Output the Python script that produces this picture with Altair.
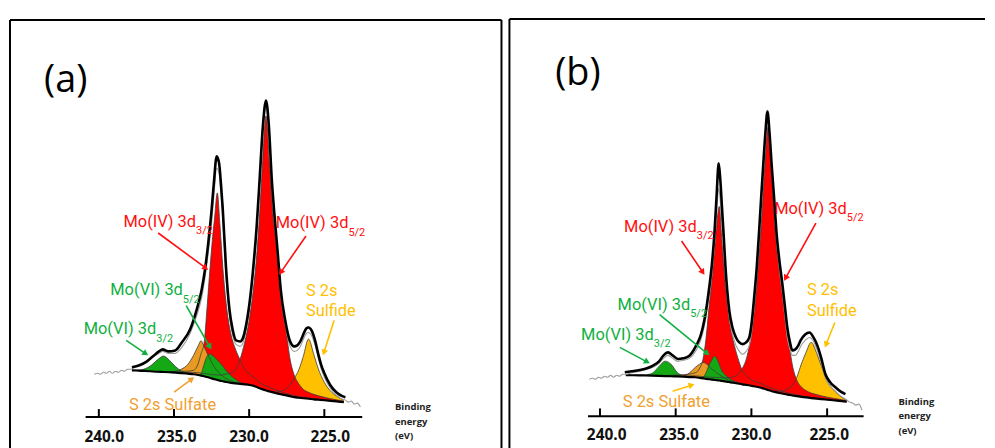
import math
import altair as alt
import pandas as pd

# ------------------------------------------------------------------
# Data (binding energy in eV, intensity in a.u.)
# ------------------------------------------------------------------

# ---------------- panel (a) ----------------
BG_A = [(237.8, 47), (237.2, 46.5), (236.6, 46), (236.1, 45.5), (235.7, 45.3), (235.3, 45),
        (234.9, 44.7), (234.5, 44.2), (234.1, 43.6), (233.7, 43), (233.4, 42.3), (233.2, 41.7),
        (233.0, 41), (232.8, 40.2), (232.6, 39.3), (232.45, 38.6), (232.3, 38), (232.12, 37.3),
        (231.95, 36.6), (231.75, 36), (231.5, 35.2), (231.2, 34.4), (230.9, 33.8), (230.6, 33.3),
        (230.3, 32.9), (230.0, 32.4), (229.75, 31.6), (229.5, 30.3), (229.3, 29), (229.1, 27.8),
        (228.88, 26.7), (228.65, 25.8), (228.4, 24.8), (228.15, 23.8), (227.9, 23), (227.6, 22),
        (227.3, 21), (227.0, 20), (226.7, 19.4), (226.4, 18.9), (226.05, 18.4), (225.7, 17.8),
        (225.4, 17.4), (225.0, 16.9), (224.6, 16.3), (224.2, 15.7), (223.7, 15)]

YEL_A = [(228.4, 0.8), (228.15, 1.5), (227.9, 3), (227.6, 6), (227.3, 11), (227.0, 19), (226.7, 28),
         (226.4, 42), (226.05, 60), (225.7, 45), (225.4, 31), (225.0, 18), (224.6, 10), (224.2, 5.5),
         (223.7, 2)]

RED52_A = [(234.1, 1.5), (233.7, 1.9), (233.4, 2.2), (233.2, 2.5), (233.0, 2.8), (232.8, 3.2),
           (232.6, 3.6), (232.45, 4), (232.3, 4.5), (232.12, 5), (231.95, 5.5), (231.75, 6.5),
           (231.5, 8), (231.2, 10), (230.9, 14), (230.6, 25), (230.3, 42), (230.0, 65), (229.75, 93),
           (229.5, 132), (229.3, 176), (229.1, 230), (228.88, 276), (228.65, 229), (228.4, 175),
           (228.15, 146), (227.9, 102), (227.6, 73), (227.3, 39), (227.0, 22), (226.7, 14),
           (226.4, 9), (226.05, 6.5), (225.7, 5), (225.4, 4), (225.0, 3), (224.6, 2.2), (224.2, 1.6),
           (223.7, 1)]

RED32_A = [(234.9, 1.3), (234.5, 1.8), (234.1, 2.5), (233.7, 4), (233.4, 11), (233.2, 22), (233.0, 33),
           (232.8, 70), (232.6, 111), (232.45, 139), (232.3, 162), (232.12, 188), (231.95, 158),
           (231.75, 114), (231.5, 75), (231.2, 48), (230.9, 34), (230.6, 24), (230.3, 15), (230.0, 11),
           (229.75, 9), (229.5, 7), (229.3, 6), (229.1, 5), (228.88, 4.5), (228.65, 4), (228.4, 3.5),
           (228.15, 3), (227.9, 2.5), (227.6, 2), (227.3, 1.8), (227.0, 1.5), (226.7, 1.2), (226.4, 1),
           (226.05, 0.8), (225.7, 0.6), (225.4, 0.5), (225.0, 0.4)]

ORA_A = [(234.9, 1), (234.5, 4), (234.1, 9), (233.7, 19), (233.4, 29), (233.2, 35), (233.0, 30),
         (232.8, 24), (232.6, 19), (232.45, 15), (232.3, 12), (232.12, 9), (231.95, 7), (231.75, 5),
         (231.5, 3), (231.2, 2), (230.9, 1), (230.6, 0.5)]

GRN32_A = [(237.2, 1), (236.6, 5), (236.1, 12), (235.7, 16), (235.3, 12), (234.9, 6), (234.5, 2),
           (234.1, 0.5)]

GRN52_A = [(233.2, 2), (233.0, 12), (232.8, 21), (232.6, 24), (232.45, 23.5), (232.3, 22), (232.12, 20),
           (231.95, 18), (231.75, 15), (231.5, 11), (231.2, 7), (230.9, 4), (230.6, 1.5), (230.3, 0.5)]

ENV_A = [(237.8, 50), (237.3, 52), (236.8, 56), (236.4, 61), (236.0, 66), (235.75, 68), (235.4, 66),
         (234.92, 67), (234.48, 75), (233.93, 88), (233.49, 108), (233.16, 128), (232.94, 148),
         (232.72, 175), (232.5, 208), (232.35, 235), (232.16, 262),
         (232.0, 255), (231.88, 235), (231.76, 210), (231.54, 150), (231.31, 108), (231.1, 88),
         (230.87, 77), (230.6, 76), (230.4, 80), (230.21, 92), (230.0, 112), (229.76, 145),
         (229.5, 192), (229.3, 240), (229.1, 290), (228.88, 318), (228.7, 295), (228.5, 240),
         (228.3, 200), (228.1, 165), (227.9, 128), (227.6, 97), (227.3, 77), (227.0, 71), (226.8, 72),
         (226.6, 76), (226.4, 83), (226.2, 89), (226.05, 90), (225.85, 87), (225.6, 76), (225.4, 63),
         (225.2, 52), (225.0, 44), (224.6, 32), (224.2, 25), (223.8, 21), (223.6, 20)]

RAW_A = [(240.3, 43), (240.1, 44), (239.9, 43), (239.7, 45), (239.5, 44), (239.3, 46), (239.1, 44),
         (238.9, 46), (238.7, 45), (238.5, 47), (238.3, 46), (238.1, 48), (237.9, 48), (237.5, 51),
         (237.0, 54), (236.5, 59), (236.0, 64), (235.75, 66), (235.4, 64),
         (234.92, 64), (234.48, 70), (233.93, 84), (233.49, 102), (233.16, 120), (232.94, 140),
         (232.72, 165), (232.5, 195), (232.35, 222), (232.16, 250), (232.0, 245),
         (231.88, 225), (231.76, 200), (231.54, 142), (231.31, 102), (231.1, 82), (230.87, 73),
         (230.6, 71), (230.4, 75), (230.21, 86), (230.0, 105), (229.76, 138), (229.5, 185),
         (229.3, 232), (229.1, 282), (228.88, 311), (228.7, 288), (228.5, 233), (228.3, 193),
         (228.1, 158), (227.9, 122), (227.6, 92), (227.3, 72), (227.0, 66), (226.8, 67), (226.6, 71),
         (226.4, 78), (226.2, 84), (226.05, 85), (225.85, 82), (225.6, 71), (225.4, 59), (225.2, 48),
         (225.0, 40), (224.6, 29), (224.2, 22), (223.8, 18), (223.6, 17), (223.4, 15), (223.2, 16),
         (223.0, 13), (222.8, 14), (222.6, 10)]

# ---------------- panel (b) ----------------
BG_B = [(238.3, 42.2), (237.8, 42), (237.2, 41.8), (236.6, 41.6), (236.1, 41.4), (235.7, 41.2),
        (235.3, 41), (234.9, 40.8), (234.5, 40.5), (234.1, 40.2), (233.7, 40), (233.4, 39.4),
        (233.2, 38.9), (233.0, 38.4), (232.8, 38), (232.6, 37.6), (232.45, 37.3), (232.3, 37),
        (232.12, 36.7), (231.95, 36.3), (231.75, 35.8), (231.5, 35.2), (231.2, 34.5), (230.9, 33.7),
        (230.6, 32.9), (230.3, 32.2), (230.0, 31.4), (229.75, 30.7), (229.5, 30), (229.3, 29.1),
        (229.1, 28.2), (228.88, 27.1), (228.65, 26), (228.4, 25), (228.15, 24.2), (227.9, 23.4),
        (227.6, 22.6), (227.3, 21.7), (227.0, 21), (226.7, 20.3), (226.4, 19.7), (226.05, 19.1),
        (225.7, 18.6), (225.4, 18.1), (225.0, 17.5), (224.6, 16.9), (224.2, 16.3), (223.7, 15.5)]

YEL_B = [(228.4, 0.8), (228.15, 1.5), (227.9, 3), (227.6, 6), (227.3, 10), (227.0, 19), (226.7, 33),
         (226.4, 45), (226.05, 56), (225.7, 46), (225.4, 34), (225.0, 19), (224.6, 11), (224.2, 5.5),
         (223.7, 1.5)]

RED52_B = [(234.1, 1.2), (233.7, 1.4), (233.4, 1.6), (233.2, 1.8), (233.0, 2), (232.8, 2.2),
           (232.6, 2.4), (232.45, 2.6), (232.3, 2.8), (232.12, 3), (231.95, 3.3), (231.75, 3.6),
           (231.5, 4.3), (231.2, 6), (230.9, 9), (230.6, 16), (230.3, 28), (230.0, 52), (229.75, 84),
           (229.5, 130), (229.3, 176), (229.1, 227), (228.88, 266), (228.65, 216), (228.4, 156),
           (228.15, 124), (227.9, 95), (227.6, 62), (227.3, 31), (227.0, 16), (226.7, 10), (226.4, 7),
           (226.05, 5), (225.7, 4), (225.4, 3.2), (225.0, 2.5), (224.6, 2), (224.2, 1.5), (223.7, 1)]

RED32_B = [(235.3, 1.1), (234.9, 1.5), (234.5, 2), (234.1, 3), (233.7, 4.5), (233.4, 10), (233.2, 19),
           (233.0, 40), (232.8, 72), (232.6, 102), (232.45, 128), (232.3, 155), (232.12, 175),
           (231.95, 142), (231.75, 103), (231.5, 67), (231.2, 42.5), (230.9, 26), (230.6, 14),
           (230.3, 9), (230.0, 6), (229.75, 5), (229.5, 4.5), (229.3, 4), (229.1, 3.6), (228.88, 3.3),
           (228.65, 3), (228.4, 2.7), (228.15, 2.4), (227.9, 2.1), (227.6, 1.8), (227.3, 1.5),
           (227.0, 1.2), (226.7, 1), (226.4, 0.8), (226.05, 0.6), (225.7, 0.5), (225.4, 0.4)]

ORA_B = [(234.5, 0.5), (234.1, 4), (233.7, 10), (233.4, 14), (233.2, 16), (233.0, 15.5), (232.8, 13),
         (232.6, 10.5), (232.45, 9), (232.3, 7.5), (232.12, 6), (231.95, 4.5), (231.75, 3.2),
         (231.5, 2), (231.2, 1), (230.9, 0.5)]

GRN32_B = [(237.2, 0.3), (236.6, 2), (236.1, 9.5), (235.7, 15), (235.3, 12), (234.9, 4), (234.5, 1),
           (234.1, 0.3)]

GRN52_B = [(233.2, 1), (233.0, 6), (232.8, 14), (232.6, 20), (232.45, 24), (232.3, 22), (232.12, 16),
           (231.95, 10), (231.75, 7), (231.5, 4), (231.2, 2), (230.9, 1), (230.6, 0.3)]

ENV_B = [(238.36, 45), (237.9, 46), (237.37, 47.3), (236.9, 49), (236.5, 51.7), (236.1, 56),
         (235.8, 62), (235.51, 65), (235.2, 62), (234.85, 58.3), (234.5, 59), (234.09, 61.7),
         (233.65, 71.7), (233.35, 82), (233.1, 98), (232.93, 114), (232.77, 132), (232.6, 155),
         (232.44, 185), (232.3, 222), (232.16, 255), (232.06, 240), (231.94, 210),
         (231.82, 180), (231.72, 153), (231.6, 128), (231.46, 107), (231.25, 90), (231.02, 80),
         (230.8, 75), (230.58, 73.3), (230.35, 75), (230.14, 80), (229.98, 95), (229.82, 120),
         (229.65, 150), (229.49, 187), (229.35, 222), (229.22, 253), (229.08, 285), (228.94, 307),
         (228.8, 285), (228.66, 253), (228.5, 220), (228.35, 187), (228.15, 157), (227.95, 133),
         (227.78, 110), (227.63, 90), (227.45, 75), (227.3, 67), (227.1, 68), (226.9, 72),
         (226.75, 77), (226.45, 83), (226.16, 85), (225.9, 80), (225.65, 72), (225.4, 60),
         (225.11, 43), (224.8, 35), (224.45, 30), (224.1, 25.5), (223.79, 23)]

RAW_B = [(240.7, 38), (240.5, 39), (240.3, 38), (240.1, 40), (239.9, 39), (239.7, 41), (239.5, 40),
         (239.3, 42), (239.1, 40), (238.9, 42), (238.7, 41), (238.5, 43), (238.36, 43), (237.9, 44.5),
         (237.37, 46), (236.9, 48), (236.5, 50), (236.1, 54), (235.8, 59), (235.51, 62), (235.2, 59),
         (234.85, 56), (234.5, 57), (234.09, 59), (233.65, 67), (233.35, 77), (233.1, 92),
         (232.93, 107), (232.77, 124), (232.6, 145), (232.44, 172), (232.3, 203),
         (232.16, 230), (232.06, 218), (231.94, 192), (231.82, 165), (231.72, 142), (231.6, 120),
         (231.46, 100), (231.25, 83), (231.02, 72), (230.8, 66), (230.58, 63), (230.35, 66),
         (230.14, 72), (229.98, 86), (229.82, 110), (229.65, 142), (229.49, 178), (229.35, 214),
         (229.22, 246), (229.08, 278), (228.94, 300), (228.8, 278), (228.66, 246), (228.5, 212),
         (228.35, 180), (228.15, 148), (227.95, 124), (227.78, 100), (227.63, 80), (227.45, 68),
         (227.3, 62), (227.1, 62), (226.9, 66), (226.75, 71), (226.45, 77), (226.16, 80),
         (225.9, 76), (225.65, 67), (225.4, 55), (225.11, 39), (224.8, 31), (224.45, 26),
         (224.1, 21), (223.79, 18), (223.5, 15), (223.3, 14), (223.1, 12), (222.9, 13), (222.7, 7)]

# ---------------- axis / text ----------------
TICKS = [240.0, 235.0, 230.0, 225.0]
TICK_LABELS = ["240.0", "235.0", "230.0", "225.0"]
TICK_LABEL_E_A = [239.64, 234.82, 230.01, 224.61]
TICK_LABEL_E_B = [239.56, 234.78, 230.0, 224.86]
AXIS_TITLE = ["Binding", "energy", "(eV)"]

# (text, energy, intensity, colour key, role)
# role "end": text ends at the given energy (subscript starts there); "left": text starts there
LABELS_A = [
    ("Mo(IV) 3d", 233.53, 196, "red", "end"), ("3/2", 233.53, 187, "red", "sub"),
    ("Mo(IV) 3d", 223.40, 195, "red", "end"), ("5/2", 223.40, 185, "red", "sub"),
    ("Mo(VI) 3d", 234.41, 128, "green", "end"), ("5/2", 234.41, 118, "green", "sub"),
    ("Mo(VI) 3d", 236.18, 88, "green", "end"), ("3/2", 236.18, 78, "green", "sub"),
    ("S 2s", 226.22, 127, "yellow", "left"), ("Sulfide", 226.22, 107, "yellow", "left"),
    ("S 2s Sulfate", 237.99, 12, "orange", "left"),
]
LABELS_B = [
    ("Mo(IV) 3d", 233.61, 191, "red", "end"), ("3/2", 233.61, 182, "red", "sub"),
    ("Mo(IV) 3d", 223.70, 209, "red", "end"), ("5/2", 223.70, 200, "red", "sub"),
    ("Mo(VI) 3d", 234.04, 113, "green", "end"), ("5/2", 234.04, 104, "green", "sub"),
    ("Mo(VI) 3d", 236.45, 82, "green", "end"), ("3/2", 236.45, 73, "green", "sub"),
    ("S 2s", 226.33, 128, "yellow", "left"), ("Sulfide", 226.33, 107, "yellow", "left"),
    ("S 2s Sulfate", 238.49, 15, "orange", "left"),
]
# (start E, start I, tip E, tip I, colour key)
ARROWS_A = [
    (236.05, 185, 232.73, 148, "red"), (226.22, 182, 228.01, 143, "red"),
    (234.19, 112, 232.52, 68, "green"), (238.18, 77, 236.72, 62, "green"),
    (224.35, 97, 225.09, 62, "yellow"), (234.99, 25, 233.66, 40, "orange"),
]
ARROWS_B = [
    (234.61, 177, 233.10, 143, "red"), (225.74, 195, 227.84, 137, "red"),
    (236.06, 103, 232.77, 62, "green"), (238.69, 70, 236.71, 54, "green"),
    (224.49, 95, 225.15, 70, "yellow"), (235.20, 26, 233.76, 33, "yellow"),
]

TEXT_COL = {"red": "#FF1010", "green": "#10B040", "yellow": "#FFC000", "orange": "#F0A030"}
FILL = {"yellow": "#FFC000", "red52": "#FF0000", "red32": "#FF0000", "orange": "#E89A22",
        "green32": "#14A814", "green52": "#14A814"}

LABEL_FONT = "Roboto, sans-serif"
NUM_FONT = "Open Sans, DejaVu Sans, sans-serif"

H = 432
YDOM = [-33, 399]


def comp_rows(bg_pairs, comp_pairs, name):
    comp = dict(comp_pairs)
    idx = [i for i, (e, _) in enumerate(bg_pairs) if comp.get(e, 0) > 0]
    lo_i, hi_i = max(min(idx) - 1, 0), min(max(idx) + 1, len(bg_pairs) - 1)
    rows = []
    for e, b in bg_pairs[lo_i:hi_i + 1]:
        rows.append({"E": e, "lo": b, "hi": b + comp.get(e, 0.0), "name": name})
    return rows


def panel(spec):
    W = spec["width"]
    xd = spec["xdom"]
    xs = alt.Scale(domain=xd, nice=False, zero=False)
    ys = alt.Scale(domain=YDOM, nice=False, zero=False)
    ppe = W / (xd[0] - xd[1])  # pixels per eV (for arrow-head angles)

    def X(f):
        return alt.X(f, type="quantitative", scale=xs, axis=None)

    def Y(f):
        return alt.Y(f, type="quantitative", scale=ys, axis=None)

    layers = []
    outline = []
    for name, pairs in spec["comps"]:
        rows = comp_rows(spec["bg"], pairs, name)
        outline += rows
        layers.append(
            alt.Chart(pd.DataFrame(rows)).mark_area(interpolate="monotone", color=FILL[name], opacity=1)
            .encode(x=X("E"), y=Y("hi"), y2=alt.Y2("lo"))
        )
    layers.append(
        alt.Chart(pd.DataFrame(outline)).mark_line(interpolate="monotone", color="#3c3c3c", strokeWidth=0.8)
        .encode(x=X("E"), y=Y("hi"), detail="name:N")
    )
    bg_df = pd.DataFrame(spec["bg"], columns=["E", "I"])
    layers.append(
        alt.Chart(bg_df).mark_line(interpolate="monotone", color="black", strokeWidth=2.2)
        .encode(x=X("E"), y=Y("I"))
    )
    raw_df = pd.DataFrame(spec["raw"], columns=["E", "I"])
    layers.append(
        alt.Chart(raw_df).mark_line(interpolate="monotone", color="#9c9c9c", strokeWidth=1.1)
        .encode(x=X("E"), y=Y("I"))
    )
    env_df = pd.DataFrame(spec["env"], columns=["E", "I"])
    layers.append(
        alt.Chart(env_df).mark_line(interpolate="monotone", color="black", strokeWidth=2.6)
        .encode(x=X("E"), y=Y("I"))
    )
    # axis line and ticks
    ax = spec["axis"]
    layers.append(
        alt.Chart(pd.DataFrame({"a": [ax[0]], "b": [ax[1]], "y": [ax[2]]}))
        .mark_rule(color="black", strokeWidth=2)
        .encode(x=X("a"), x2=alt.X2("b"), y=Y("y"))
    )
    tick_df = pd.DataFrame({"E": TICKS, "y0": [ax[2]] * 4, "y1": [ax[2] + 8] * 4})
    layers.append(
        alt.Chart(tick_df).mark_rule(color="black", strokeWidth=2)
        .encode(x=X("E"), y=Y("y0"), y2=alt.Y2("y1"))
    )
    tl_df = pd.DataFrame({"E": spec["tick_label_e"], "I": [spec["tick_label_i"]] * 4, "t": TICK_LABELS})
    layers.append(
        alt.Chart(tl_df).mark_text(font=NUM_FONT, fontSize=15.5, fontWeight="bold", color="#111111",
                                   align="center", baseline="middle")
        .encode(x=X("E"), y=Y("I"), text="t:N")
    )
    at_df = pd.DataFrame({"E": [spec["title_e"]] * 3, "I": spec["title_i"], "t": AXIS_TITLE})
    layers.append(
        alt.Chart(at_df).mark_text(font=NUM_FONT, fontSize=9.5, fontWeight="bold", color="#222222",
                                   align="left", baseline="middle")
        .encode(x=X("E"), y=Y("I"), text="t:N")
    )
    # labels
    lab = pd.DataFrame(spec["labels"], columns=["t", "E", "I", "c", "role"])
    lab["col"] = lab["c"].map(TEXT_COL)
    for role, size, align in (("end", 16.5, "right"), ("left", 16.5, "left"), ("sub", 11, "left")):
        layers.append(
            alt.Chart(lab[lab["role"] == role]).mark_text(font=LABEL_FONT, fontSize=size, align=align,
                                                         baseline="middle")
            .encode(x=X("E"), y=Y("I"), text="t:N", color=alt.Color("col:N", scale=None))
        )
    # arrows
    arr_rows = []
    for e1, i1, e2, i2, c in spec["arrows"]:
        dxs = -(e2 - e1) * ppe
        dys = -(i2 - i1)
        ln = math.hypot(dxs, dys)
        ang = math.degrees(math.atan2(dxs, -dys)) % 360
        back = 3.0 / ln
        arr_rows.append({"E1": e1, "I1": i1, "E2": e2 + (e1 - e2) * back * 1.6, "I2": i2 + (i1 - i2) * back * 1.6,
                         "Eh": e2 + (e1 - e2) * back, "Ih": i2 + (i1 - i2) * back,
                         "ang": ang, "col": TEXT_COL[c]})
    arr = pd.DataFrame(arr_rows)
    layers.append(
        alt.Chart(arr).mark_rule(strokeWidth=1.6)
        .encode(x=X("E1"), y=Y("I1"), x2=alt.X2("E2"), y2=alt.Y2("I2"), color=alt.Color("col:N", scale=None))
    )
    layers.append(
        alt.Chart(arr).mark_point(shape="triangle-up", filled=True, size=48, opacity=1)
        .encode(x=X("Eh"), y=Y("Ih"), angle=alt.Angle("ang:Q", scale=None),
                color=alt.Color("col:N", scale=None))
    )
    # panel letter
    let = pd.DataFrame({"E": [spec["letter"][1]], "I": [spec["letter"][2]], "t": [spec["letter"][0]]})
    layers.append(
        alt.Chart(let).mark_text(font=NUM_FONT, fontSize=38, color="black", align="left", baseline="middle")
        .encode(x=X("E"), y=Y("I"), text="t:N")
    )
    # frame (decoration)
    fr = pd.DataFrame({"k": [0]})
    fx0, fx1 = spec["frame"]
    layers.append(
        alt.Chart(fr).mark_rule(color="black", strokeWidth=2)
        .encode(x=alt.value(fx0), y=alt.value(spec["frame_top"]), y2=alt.value(H))
    )
    layers.append(
        alt.Chart(fr).mark_rule(color="black", strokeWidth=2)
        .encode(x=alt.value(fx0), x2=alt.value(fx1), y=alt.value(spec["frame_top"]))
    )
    if spec["frame_right"]:
        layers.append(
            alt.Chart(fr).mark_rule(color="black", strokeWidth=2)
            .encode(x=alt.value(fx1), y=alt.value(spec["frame_top"]), y2=alt.value(H))
        )
    return alt.layer(*layers).properties(width=W, height=H)


spec_a = dict(
    width=496, xdom=[245.976, 213.15], bg=BG_A, raw=RAW_A, env=ENV_A,
    comps=[("yellow", YEL_A), ("red52", RED52_A), ("red32", RED32_A), ("orange", ORA_A),
           ("green32", GRN32_A), ("green52", GRN52_A)],
    axis=(240.88, 222.48, 0), tick_label_e=TICK_LABEL_E_A, tick_label_i=-20,
    title_e=220.3, title_i=[10, -4.5, -19], labels=LABELS_A, arrows=ARROWS_A,
    letter=("(a)", 243.64, 338), frame=(1, 495), frame_top=0, frame_right=True,
)
spec_b = dict(
    width=483, xdom=[246.307, 214.573], bg=BG_B, raw=RAW_B, env=ENV_B,
    comps=[("yellow", YEL_B), ("red52", RED52_B), ("red32", RED32_B), ("orange", ORA_B),
           ("green32", GRN32_B), ("green52", GRN52_B)],
    axis=(240.79, 222.59, 0.7), tick_label_e=TICK_LABEL_E_B, tick_label_i=-18.3,
    title_e=220.29, title_i=[15, 1, -14], labels=LABELS_B, arrows=ARROWS_B,
    letter=("(b)", 242.96, 345), frame=(5, 483), frame_top=-1, frame_right=False,
)

chart = alt.hconcat(panel(spec_a), panel(spec_b), spacing=0).properties(
    padding={"left": 0, "top": 8, "right": 0, "bottom": 0},
    background="white",
).configure_view(stroke="transparent")

chart.save("out.html", embed_options={"renderer": "svg", "actions": False})
